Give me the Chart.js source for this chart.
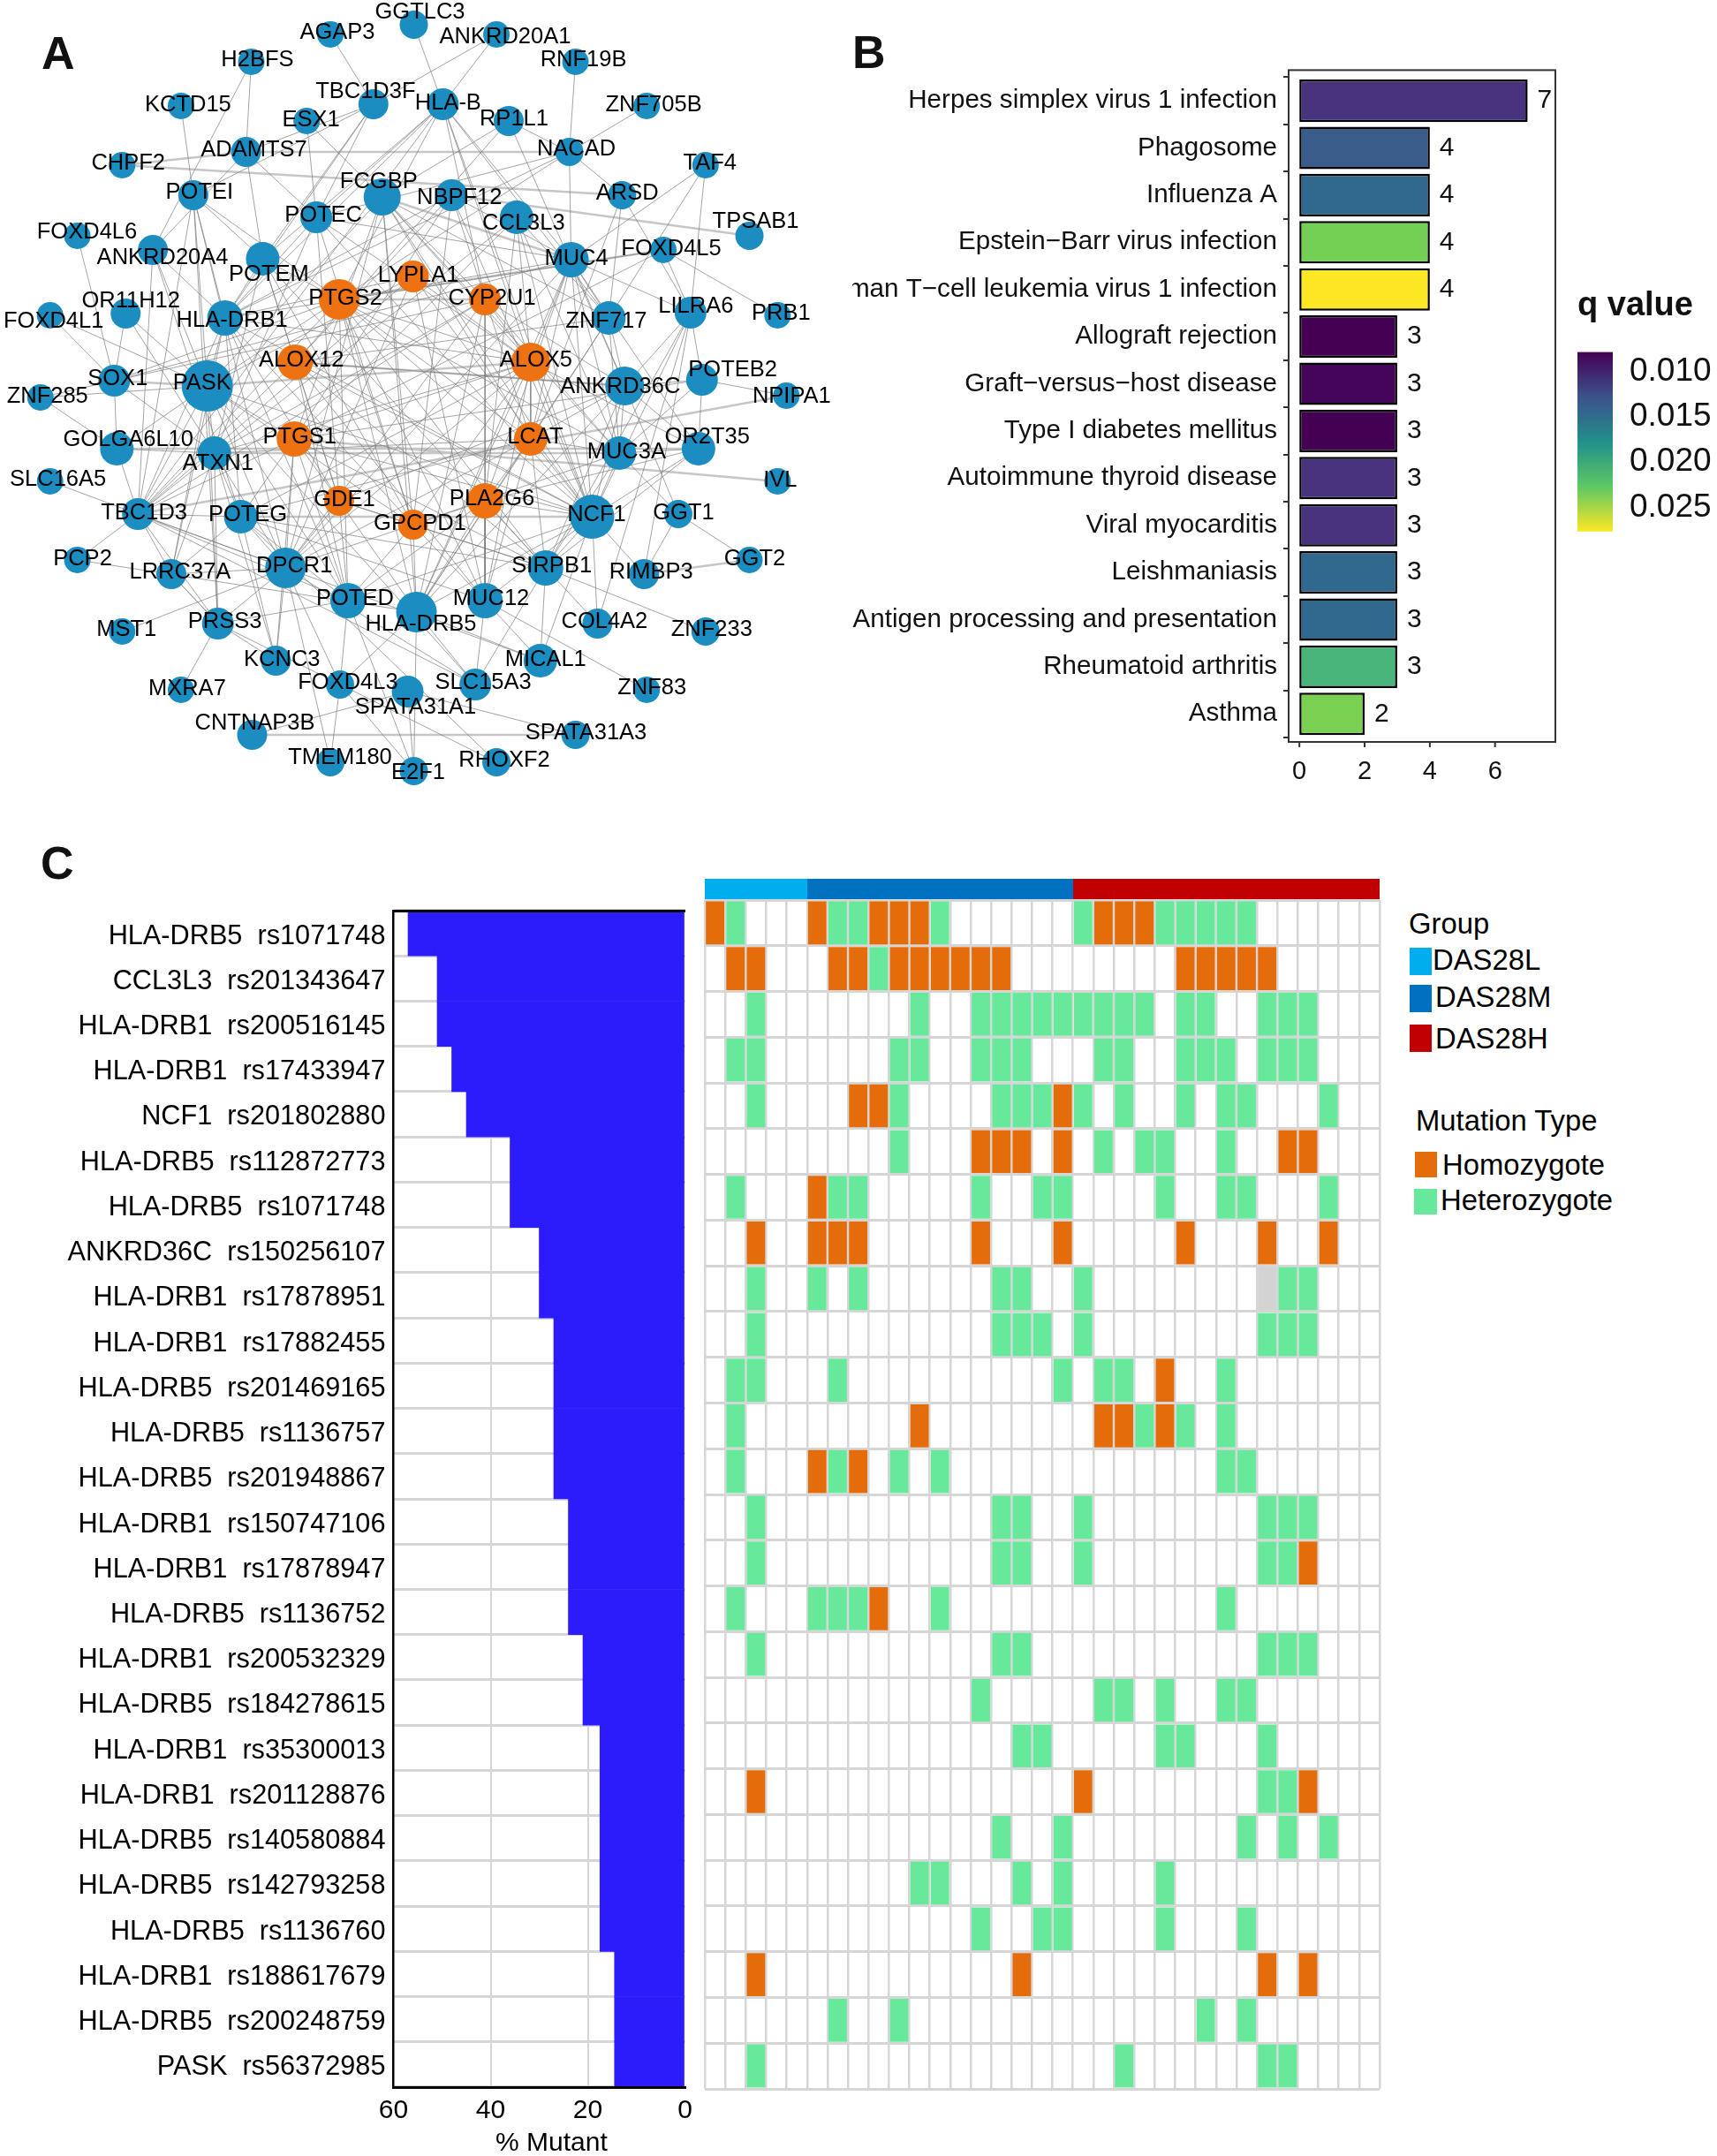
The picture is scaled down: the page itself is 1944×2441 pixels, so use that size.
<!DOCTYPE html>
<html>
<head>
<meta charset="utf-8">
<title>Network, KEGG enrichment and mutation landscape</title>
<script src="https://cdn.jsdelivr.net/npm/chart.js@4"></script>
<style>
  html, body { margin: 0; padding: 0; background: #fff; }
  body { position: relative; width: 1944px; height: 2441px; overflow: hidden; font-family: "Liberation Sans", Arial, sans-serif; color: #000; }
  canvas { position: absolute; }
  .letter { position: absolute; font-weight: bold; font-size: 52px; line-height: 52px; color: #111; }
  .txt { position: absolute; font-size: 32.8px; line-height: 32px; white-space: pre; transform: translateY(-50%); }
  .swatch { position: absolute; }
</style>
</head>
<body>
<div class="letter" style="left:47px;top:34px">A</div>
<div class="letter" style="left:965px;top:33px">B</div>
<div class="letter" style="left:46px;top:951px">C</div>

<canvas id="network" width="950" height="920" style="left:0;top:0"></canvas>
<canvas id="pathways" width="810" height="840" style="left:965px;top:60px"></canvas>
<canvas id="qbar" width="164" height="335" style="left:1780px;top:300px"></canvas>
<canvas id="mutant" width="800" height="1441" style="left:0;top:1000px"></canvas>
<canvas id="heat" width="800" height="1380" style="left:780px;top:1000px"></canvas>
<canvas id="groups" width="800" height="40" style="left:780px;top:985px"></canvas>
<div class="txt" style="left:561px;top:2425px;font-size:30px">% Mutant</div>
<div id="legends"></div>

<script>
// ---- panel A: network nodes
const nodeNames = ["GGTLC3","AGAP3","ANKRD20A1","H2BFS","RNF19B","KCTD15","TBC1D3F","HLA-B","ESX1","RP1L1","ZNF705B","ADAMTS7","NACAD","CHPF2","TAF4","POTEI","FCGBP","NBPF12","ARSD","POTEC","CCL3L3","TPSAB1","FOXD4L6","ANKRD20A4","POTEM","FOXD4L5","MUC4","LYPLA1","PTGS2","CYP2U1","OR11H12","FOXD4L1","HLA-DRB1","ZNF717","LILRA6","PRB1","ALOX12","ALOX5","SOX1","PASK","ANKRD36C","POTEB2","NPIPA1","ZNF285","GOLGA6L10","ATXN1","PTGS1","LCAT","MUC3A","OR2T35","SLC16A5","IVL","TBC1D3","POTEG","GDE1","PLA2G6","GPCPD1","NCF1","GGT1","PCP2","LRRC37A","DPCR1","SIRPB1","RIMBP3","GGT2","POTED","HLA-DRB5","MUC12","MST1","PRSS3","COL4A2","ZNF233","KCNC3","MICAL1","MXRA7","FOXD4L3","SPATA31A1","SLC15A3","ZNF83","CNTNAP3B","SPATA31A3","TMEM180","RHOXF2","E2F1"];
const nodeX = [471,376,565,286,655,206,425,504,349,579,736,280,648,139,803,220,435,514,708,360,588,853,88,174,299,755,650,470,386,552,143,57,256,693,786,885,336,604,130,236,711,799,895,46,133,244,335,604,705,795,57,885,157,274,386,552,470,674,772,88,195,325,621,733,853,396,474,552,139,248,680,803,314,615,206,387,464,541,736,287,655,376,565,471];
const nodeY = [28,39,39,70,70,120,118,118,137,137,120,172,172,187,187,221,223,221,221,246,246,267,267,283,293,283,294,313,339,339,355,357,360,360,354,357,410,410,431,437,437,430,448,450,508,513,497,497,513,508,545,545,582,585,567,567,594,585,582,634,650,643,643,650,634,680,693,680,715,706,706,715,748,748,781,775,783,775,781,832,832,863,863,873];
const nodeSize = [16,15,15,15,15,15,17,18,15,17,15,17,16,15,15,17,21,18,16,18,19,16,15,17,19,15,20,18,23,18,17,15,20,19,18,15,20,22,18,29,22,18,15,15,19,19,20,19,19,19,15,15,18,19,17,20,17,25,16,15,17,23,20,17,15,20,23,20,15,18,17,16,17,19,15,16,18,18,15,17,16,16,16,16];
const labelX = [478,384,575,293,664,214,416,510,354,585,744,289,656,146,808,227,431,523,714,368,596,860,99,185,306,764,656,476,393,560,149,61,264,690,792,889,343,610,134,230,706,834,901,54,146,248,341,609,713,805,66,888,164,282,392,560,478,679,778,94,205,335,628,741,859,404,479,559,144,256,688,810,321,621,213,396,473,550,742,290,667,387,574,476];
const labelY = [14,37,42,68,68,119,104,117,136,135,119,170,169,185,185,218,206,224,219,244,253,251,263,292,311,282,293,312,338,338,341,364,363,364,347,355,408,408,429,434,438,419,449,449,498,525,495,495,512,495,543,544,581,583,566,565,593,583,581,633,648,641,641,648,633,678,707,678,713,704,704,713,747,747,780,773,801,773,779,819,830,858,861,875];
const orangeNodes = ["LYPLA1","PTGS2","CYP2U1","ALOX12","ALOX5","PTGS1","LCAT","GDE1","PLA2G6","GPCPD1"];

// edges: hub name and who it connects to
const edgeHubs = ["GGTLC3","AGAP3","ANKRD20A1","H2BFS","RNF19B","KCTD15","ZNF705B","ESX1","TBC1D3F","HLA-B","RP1L1","ADAMTS7","NACAD","TAF4","ARSD","POTEI","FCGBP","NBPF12","POTEC","CCL3L3","FOXD4L6","ANKRD20A4","POTEM","FOXD4L5","MUC4","LYPLA1","PTGS2","CYP2U1","OR11H12","FOXD4L1","HLA-DRB1","ZNF717","LILRA6","ALOX12","ALOX5","SOX1","PASK","ANKRD36C","POTEB2","ZNF285","GOLGA6L10","ATXN1","PTGS1","LCAT","MUC3A","OR2T35","SLC16A5","TBC1D3","POTEG","GDE1","PLA2G6","GPCPD1","NCF1","GGT1","PCP2","LRRC37A","DPCR1","SIRPB1","POTED","HLA-DRB5","MUC12","PRSS3","CNTNAP3B","SPATA31A1","FOXD4L3"];
const edgePartners = [
  "HLA-B","TBC1D3F","TBC1D3F HLA-B","ADAMTS7 ANKRD20A4","NACAD","POTEI","NACAD","POTEC FCGBP",
  "POTEC POTEM HLA-DRB1 ADAMTS7 POTEI",
  "POTEC POTEM HLA-DRB1 PTGS2 CYP2U1 ALOX5 MUC4 ZNF717 TBC1D3 NCF1",
  "NACAD FCGBP ANKRD36C ALOX12","POTEC POTEM ANKRD20A4","MUC4 ARSD PTGS2 POTEC HLA-DRB1","MUC4 ZNF717","LILRA6 ZNF717 LCAT",
  "POTEM PTGS2 HLA-DRB1 PASK DPCR1 TBC1D3 PRSS3",
  "PTGS1 ALOX5 CYP2U1 LCAT ZNF717 GPCPD1 NCF1 DPCR1 PASK HLA-DRB5 MUC3A",
  "MUC4 ALOX12 HLA-DRB1 GPCPD1 NCF1 LCAT PTGS1",
  "MUC4 ALOX5 HLA-DRB1 ATXN1 GDE1 GPCPD1 NCF1",
  "ALOX5 MUC3A NCF1 PTGS1 PLA2G6 ATXN1 ZNF717",
  "SOX1","PASK POTEG HLA-DRB1 TBC1D3",
  "PTGS2 ALOX12 ATXN1 GDE1 HLA-DRB1 GPCPD1 SIRPB1",
  "PRB1 PTGS1 HLA-DRB1 LILRA6",
  "ZNF717 ALOX5 PTGS2 LCAT ANKRD36C PLA2G6 NCF1 MUC3A OR2T35 DPCR1 LILRA6 HLA-DRB5 SOX1",
  "PASK HLA-DRB1 ALOX5 TBC1D3 DPCR1 MUC12 NCF1",
  "PASK ALOX5 LCAT MUC3A NCF1 SIRPB1 MUC12 POTED HLA-DRB5 TBC1D3 SOX1 GPCPD1",
  "ALOX5 TBC1D3 ANKRD36C SOX1 ATXN1 DPCR1 MUC3A MUC12 HLA-DRB5",
  "SOX1 PASK ATXN1","SOX1 PASK",
  "PASK TBC1D3 POTEG ALOX5 GDE1 GPCPD1 LRRC37A NCF1 POTED",
  "ANKRD36C LCAT MUC3A ALOX12 HLA-DRB5","ANKRD36C POTEB2 NCF1 SIRPB1 COL4A2 RIMBP3 TAF4",
  "ANKRD36C NCF1 GDE1 POTED MUC12 SIRPB1 TBC1D3",
  "LCAT OR2T35 NCF1 PTGS1 GPCPD1 ATXN1 POTEG DPCR1 MUC12 HLA-DRB5",
  "GOLGA6L10 ATXN1 ZNF285",
  "ZNF285 GOLGA6L10 ATXN1 TBC1D3 PTGS1 DPCR1 LRRC37A POTED NCF1 GPCPD1 SLC15A3 PRSS3",
  "POTEB2 LCAT MUC3A OR2T35 NCF1 SIRPB1 GDE1 HLA-DRB5 GGT1",
  "NPIPA1 OR2T35 MUC3A PTGS1","GOLGA6L10","TBC1D3 ATXN1",
  "TBC1D3 POTEG LCAT DPCR1 PRSS3 LRRC37A KCNC3",
  "GDE1 POTEG DPCR1 TBC1D3 NCF1 SIRPB1 POTED KCNC3",
  "MUC3A NCF1 PLA2G6 SIRPB1 MUC12 DPCR1 POTEG HLA-DRB5",
  "OR2T35 NCF1 GPCPD1 GGT1 SIRPB1","NCF1 SIRPB1 PLA2G6","TBC1D3",
  "PCP2 LRRC37A POTEG DPCR1 POTED MICAL1 SLC15A3 PRSS3",
  "DPCR1 POTED SIRPB1 KCNC3 LRRC37A MUC12 RHOXF2",
  "POTED HLA-DRB5 SIRPB1 GPCPD1 DPCR1",
  "NCF1 GPCPD1 SIRPB1 MUC12 HLA-DRB5 POTED",
  "HLA-DRB5 SIRPB1 DPCR1 MUC12 POTED",
  "SIRPB1 MUC12 COL4A2 HLA-DRB5 MICAL1 RIMBP3 POTED",
  "GGT2 RIMBP3","HLA-DRB5","DPCR1 PRSS3",
  "MST1 PRSS3 KCNC3 SLC15A3 FOXD4L3 TMEM180",
  "ZNF233 COL4A2 MICAL1 SLC15A3","PRSS3 FOXD4L3 E2F1","FOXD4L3 SLC15A3 MICAL1 E2F1",
  "ZNF83 SLC15A3 MICAL1","MXRA7 KCNC3 RHOXF2 LRRC37A","SPATA31A1","SPATA31A3 E2F1","E2F1 TMEM180"
];
const thickEdges = [["CHPF2","ARSD"],["ADAMTS7","NACAD"],["CHPF2","ADAMTS7"],["NBPF12","TPSAB1"],["FOXD4L5","PTGS2"],["PTGS2","CYP2U1"],["PASK","ALOX5"],["SOX1","PASK"],["GOLGA6L10","OR2T35"],["ATXN1","MUC3A"],["PTGS1","IVL"],["POTEG","NCF1"],["RIMBP3","GGT2"],["CNTNAP3B","SPATA31A3"],["TBC1D3","NPIPA1"],["FCGBP","MUC4"],["ALOX12","ANKRD36C"]];

// ---- panel B
const pathwayNames = ["Herpes simplex virus 1 infection","Phagosome","Influenza A","Epstein\u2212Barr virus infection","Human T\u2212cell leukemia virus 1 infection","Allograft rejection","Graft\u2212versus\u2212host disease","Type I diabetes mellitus","Autoimmune thyroid disease","Viral myocarditis","Leishmaniasis","Antigen processing and presentation","Rheumatoid arthritis","Asthma"];
const pathwayCounts = [7,4,4,4,4,3,3,3,3,3,3,3,3,2];
const pathwayColors = ["#47337e","#3a5c8a","#31688e","#74d055","#fde725","#440154","#450558","#440154","#47337e","#47337e","#31688e","#31688e","#48b67a","#7ad151"];
const countTicks = [0,2,4,6];
const qTicks = [0.010,0.015,0.020,0.025];
const qRange = [0.00782,0.02768];
const viridisStops = ["#440154","#3b528b","#21908c","#5dc863","#fde725"];

// ---- panel C
const geneLabels = ["HLA-DRB5","CCL3L3","HLA-DRB1","HLA-DRB1","NCF1","HLA-DRB5","HLA-DRB5","ANKRD36C","HLA-DRB1","HLA-DRB1","HLA-DRB5","HLA-DRB5","HLA-DRB5","HLA-DRB1","HLA-DRB1","HLA-DRB5","HLA-DRB1","HLA-DRB5","HLA-DRB1","HLA-DRB1","HLA-DRB5","HLA-DRB5","HLA-DRB5","HLA-DRB1","HLA-DRB5","PASK"];
const rsLabels = ["rs1071748","rs201343647","rs200516145","rs17433947","rs201802880","rs112872773","rs1071748","rs150256107","rs17878951","rs17882455","rs201469165","rs1136757","rs201948867","rs150747106","rs17878947","rs1136752","rs200532329","rs184278615","rs35300013","rs201128876","rs140580884","rs142793258","rs1136760","rs188617679","rs200248759","rs56372985"];
const mutantPct = [57,51,51,48,45,36,36,30,30,27,27,27,27,24,24,24,21,21,17.5,17.5,17.5,17.5,17.5,14.5,14.5,14.5];
const mutantTicks = [60,40,20,0];
const sampleCount = 33;

// column index of each mutated sample, one list per row
const homoCols = [[0,5,8,9,10,19,20,21],[1,2,6,7,9,10,11,12,13,14,23,24,25,26,27],[],[],[7,8,17],[13,14,15,17,28,29],[5],[2,5,6,7,13,17,23,27,30],[],[],[22],[10,19,20,22],[5,7],[],[29],[8],[],[],[],[2,18,29],[],[],[],[2,15,27,29],[],[]];
const hetCols = [[1,6,7,11,18,22,23,24,25,26],[8],[2,10,13,14,15,16,17,18,19,20,21,23,24,27,28,29],[1,2,9,10,13,14,15,19,20,23,24,25,27,28,29],[2,9,14,15,16,18,20,23,25,26,30],[9,19,21,22,25],[1,6,7,13,16,17,22,25,26,30],[],[2,5,7,14,15,18,28,29],[2,14,15,16,18,27,28,29],[1,2,6,17,19,20,25],[1,21,23,25],[1,6,9,11,25,26],[2,14,15,18,27,28,29],[2,14,15,18,27,28],[1,5,6,7,11,25],[2,14,15,27,28,29],[13,19,20,22,25,26],[15,16,22,23,27],[27,28],[14,17,26,28,30],[10,11,15,17,22],[13,16,17,22,26],[],[6,9,24,26],[2,20,27,28]];
const missingCells = [[8,27]]; // [row, col], grey cell

const groupNames = ["DAS28L","DAS28M","DAS28H"];
const groupSizes = [5,13,15];
const groupColors = ["#00aeef","#0070c0","#c00000"];
const mutationNames = ["Homozygote","Heterozygote"];
const homoColor = "#e46c0a";
const hetColor = "#66e99a";
const missingColor = "#d3d3d3";
const gridGrey = "#d6d6d6";

Chart.defaults.font.family = "'Liberation Sans', Arial, sans-serif";
Chart.defaults.color = "#000";
Chart.defaults.animation = false;
Chart.defaults.responsive = false;
Chart.defaults.devicePixelRatio = 1;
Chart.defaults.plugins.legend.display = false;
Chart.defaults.plugins.tooltip.enabled = false;
Chart.defaults.layout.autoPadding = false;

function edgePoints(pairs) {
  // one broken line per dataset: a null point lifts the pen between edges
  const pts = [];
  pairs.forEach(([a, b]) => {
    const i = nodeNames.indexOf(a), j = nodeNames.indexOf(b);
    if (i < 0 || j < 0) return;
    pts.push({ x: nodeX[i], y: nodeY[i] }, { x: nodeX[j], y: nodeY[j] }, { x: null, y: null });
  });
  return pts;
}

function drawNetwork() {
  const thinPairs = [];
  edgeHubs.forEach((hub, i) => {
    edgePartners[i].split(" ").forEach((p) => thinPairs.push([hub, p]));
  });

  const nodeLabels = {
    id: "nodeLabels",
    afterDatasetsDraw(chart) {
      const { ctx, scales } = chart;
      ctx.save();
      ctx.font = "25.5px 'Liberation Sans', Arial, sans-serif";
      ctx.fillStyle = "#000";
      ctx.textAlign = "center";
      ctx.textBaseline = "middle";
      nodeNames.forEach((name, i) => {
        ctx.fillText(name, scales.x.getPixelForValue(labelX[i]), scales.y.getPixelForValue(labelY[i]));
      });
      ctx.restore();
    },
  };

  new Chart(document.getElementById("network"), {
    type: "scatter",
    data: {
      datasets: [
        {
          type: "scatter",
          order: 0,
          data: nodeNames.map((n, i) => ({ x: nodeX[i], y: nodeY[i] })),
          pointRadius: nodeSize,
          pointBackgroundColor: nodeNames.map((n) => (orangeNodes.includes(n) ? "#ee7212" : "#1c8dc1")),
          pointBorderWidth: 0,
        },
        {
          type: "line", order: 1, data: edgePoints(thinPairs), showLine: true, spanGaps: false,
          pointRadius: 0, borderColor: "rgba(125,125,125,0.7)", borderWidth: 1,
        },
        {
          type: "line", order: 2, data: edgePoints(thickEdges), showLine: true, spanGaps: false,
          pointRadius: 0, borderColor: "#c6c6c6", borderWidth: 2.5,
        },
      ],
    },
    options: {
      clip: false,
      scales: {
        x: { type: "linear", display: false, min: 0, max: 955 },
        y: { type: "linear", display: false, min: 0, max: 920, reverse: true },
      },
    },
    plugins: [nodeLabels],
  });
}

function drawPathways() {
  // ggplot style frame: sits a little outside the band the bars fill
  const extras = {
    id: "extras",
    afterDraw(chart) {
      const { ctx, chartArea: a, scales } = chart;
      const frameTop = a.top - 8, frameBottom = a.bottom + 5;
      ctx.save();
      ctx.strokeStyle = "#333";
      ctx.lineWidth = 2;
      ctx.strokeRect(a.left, frameTop, a.right - a.left, frameBottom - frameTop);
      countTicks.forEach((v) => {
        const px = scales.x.getPixelForValue(v);
        ctx.beginPath();
        ctx.moveTo(px, frameBottom);
        ctx.lineTo(px, frameBottom + 6);
        ctx.stroke();
      });
      ctx.font = "30px 'Liberation Sans', Arial, sans-serif";
      ctx.fillStyle = "#111";
      ctx.textBaseline = "middle";
      chart.getDatasetMeta(0).data.forEach((bar, i) => {
        ctx.fillText(pathwayCounts[i], bar.x + 11, bar.y);
      });
      ctx.restore();
    },
  };

  new Chart(document.getElementById("pathways"), {
    type: "bar",
    data: {
      labels: pathwayNames,
      datasets: [{
        data: pathwayCounts,
        backgroundColor: pathwayColors,
        borderColor: "#000",
        borderWidth: 2.5,
        borderSkipped: false,
        barPercentage: 0.9,
        categoryPercentage: 1,
      }],
    },
    options: {
      indexAxis: "y",
      layout: { padding: { top: 27.4, right: 14 } },
      scales: {
        x: {
          min: -0.33, max: 7.85,
          afterBuildTicks: (s) => { s.ticks = countTicks.map((v) => ({ value: v })); },
          afterFit: (s) => { s.height = 65; },
          grid: { display: false },
          border: { display: false },
          ticks: { font: { size: 29 }, color: "#111", padding: 14, maxRotation: 0 },
        },
        y: {
          afterFit: (s) => { s.width = 494; },
          grid: { drawOnChartArea: false, tickLength: 6, color: "#333", lineWidth: 2 },
          border: { display: false },
          ticks: { font: { size: 29.6 }, color: "#111", padding: 7, autoSkip: false },
        },
      },
    },
    plugins: [extras],
  });

  new Chart(document.getElementById("qbar"), {
    type: "bar",
    data: {
      labels: ["q value"],
      datasets: [{
        data: [qRange],
        backgroundColor: (ctx) => {
          const a = ctx.chart.chartArea;
          if (!a) return viridisStops[0];
          const g = ctx.chart.ctx.createLinearGradient(0, a.top, 0, a.bottom);
          viridisStops.forEach((c, i) => g.addColorStop(i / (viridisStops.length - 1), c));
          return g;
        },
        barPercentage: 1,
        categoryPercentage: 1,
      }],
    },
    options: {
      layout: { padding: { left: 6, bottom: 12 } },
      plugins: {
        title: {
          display: true, text: "q value", align: "start", color: "#111",
          font: { size: 38, weight: "bold", lineHeight: 1.2 },
          padding: { top: 24, bottom: 29 },
        },
      },
      scales: {
        x: { display: false },
        y: {
          position: "right", reverse: true, min: qRange[0], max: qRange[1],
          afterBuildTicks: (s) => { s.ticks = qTicks.map((v) => ({ value: v })); },
          afterFit: (s) => { s.width = 118; },
          grid: { display: false },
          border: { display: false },
          ticks: { font: { size: 37 }, color: "#111", padding: 11, callback: (v) => v.toFixed(3) },
        },
      },
    },
  });
}

function drawMutant() {
  // blank first line + tiny line height nudges the row labels a few pixels down, as in the figure
  const rowLabels = geneLabels.map((g, i) => ["", g + "  " + rsLabels[i]]);
  const blackBorder = { color: "#000", width: 3, z: 1 };
  new Chart(document.getElementById("mutant"), {
    type: "bar",
    data: {
      labels: rowLabels,
      datasets: [{
        data: mutantPct,
        backgroundColor: "#2c1bfb",
        barPercentage: 1,
        categoryPercentage: 1,
        xAxisID: "x",
      }],
    },
    options: {
      indexAxis: "y",
      layout: { padding: { top: 31, right: 24.5 } },
      scales: {
        x: {
          type: "linear", reverse: true, min: 0, max: 60,
          afterBuildTicks: (s) => { s.ticks = mutantTicks.map((v) => ({ value: v })); },
          afterFit: (s) => { s.height = 78; },
          grid: {
            color: (c) => ([20, 40].includes(c.tick && c.tick.value) ? gridGrey : "transparent"),
            lineWidth: 2, drawTicks: false,
          },
          border: blackBorder,
          ticks: { font: { size: 30 }, padding: 9, maxRotation: 0 },
        },
        x2: {
          type: "linear", position: "top", reverse: true, min: 0, max: 60,
          afterFit: (s) => { s.height = 0; },
          grid: { display: false, drawTicks: false },
          border: blackBorder,
          ticks: { display: false },
        },
        y: {
          afterFit: (s) => { s.width = 445.5; },
          grid: { color: gridGrey, lineWidth: 3, drawTicks: false },
          border: { color: "#000", width: 2.5, z: 1 },
          ticks: { font: { size: 30.7, lineHeight: "7px" }, padding: 9, autoSkip: false },
        },
      },
    },
  });
}

function cellColor(row, col) {
  if (homoCols[row].includes(col)) return homoColor;
  if (hetCols[row].includes(col)) return hetColor;
  if (missingCells.some(([r, c]) => r === row && c === col)) return missingColor;
  return null;
}

function drawHeat() {
  // a floating bar per cell; one dataset per sample column
  const datasets = [];
  for (let col = 0; col < sampleCount; col++) {
    const colors = rsLabels.map((_, row) => cellColor(row, col));
    datasets.push({
      data: colors.map((c) => (c ? [col + 0.05, col + 0.95] : null)),
      backgroundColor: colors,
      borderWidth: 0,
      grouped: false,
      barPercentage: 0.94,
      categoryPercentage: 1,
    });
  }
  new Chart(document.getElementById("heat"), {
    type: "bar",
    data: { labels: rsLabels.map((r, i) => i + ":" + r), datasets },
    options: {
      indexAxis: "y",
      layout: { padding: { left: 18, right: 18, top: 19, bottom: 15 } },
      scales: {
        x: {
          type: "linear", min: 0, max: sampleCount,
          afterFit: (s) => { s.height = 0; },
          grid: { color: gridGrey, lineWidth: 2.5, drawTicks: false },
          border: { display: false },
          ticks: { display: false, stepSize: 1, autoSkip: false },
        },
        y: {
          afterFit: (s) => { s.width = 0; },
          grid: { color: gridGrey, lineWidth: 3, drawTicks: false },
          border: { display: false },
          ticks: { display: false, autoSkip: false },
        },
      },
    },
  });

  new Chart(document.getElementById("groups"), {
    type: "bar",
    data: {
      labels: ["Group"],
      datasets: groupNames.map((name, i) => ({
        label: name,
        data: [groupSizes[i]],
        backgroundColor: groupColors[i],
        barPercentage: 1,
        categoryPercentage: 1,
      })),
    },
    options: {
      indexAxis: "y",
      layout: { padding: { left: 18, right: 18, top: 10, bottom: 7 } },
      scales: {
        x: { display: false, stacked: true, min: 0, max: sampleCount },
        y: { display: false, stacked: true },
      },
    },
  });
}

function drawLegends() {
  const box = document.getElementById("legends");
  const addText = (text, x, y) => {
    const d = document.createElement("div");
    d.className = "txt";
    d.textContent = text;
    d.style.left = x + "px";
    d.style.top = y + "px";
    box.appendChild(d);
  };
  const addSwatch = (color, x, y, w, h) => {
    const d = document.createElement("div");
    d.className = "swatch";
    d.style.cssText = `left:${x}px;top:${y}px;width:${w}px;height:${h}px;background:${color}`;
    box.appendChild(d);
  };
  addText("Group", 1595, 1046);
  addSwatch(groupColors[0], 1596, 1073, 25, 31);
  addText(groupNames[0], 1622, 1087);
  addSwatch(groupColors[1], 1596, 1115, 25, 31);
  addText(groupNames[1], 1625, 1129);
  addSwatch(groupColors[2], 1596, 1160, 25, 31);
  addText(groupNames[2], 1625, 1176);
  addText("Mutation Type", 1603, 1269);
  addSwatch(homoColor, 1602, 1304, 25, 29);
  addText(mutationNames[0], 1633, 1319);
  addSwatch(hetColor, 1601, 1346, 26, 29);
  addText(mutationNames[1], 1631, 1359);
}

drawNetwork();
drawPathways();
drawMutant();
drawHeat();
drawLegends();
</script>
</body>
</html>
